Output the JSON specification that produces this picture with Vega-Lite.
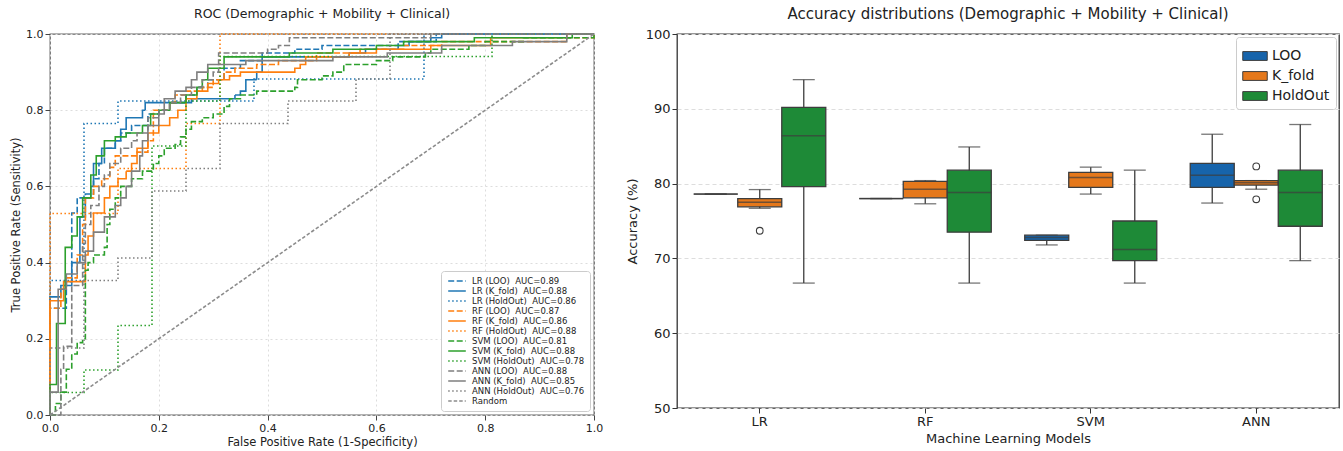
{
  "$schema": "https://vega.github.io/schema/vega-lite/v6.json",
  "padding": {"left": 9, "top": 6, "right": 3, "bottom": 4},
  "config": {"font": "DejaVu Sans", "concat": {"spacing": 21}},
  "resolve": {"legend": {"color": "independent", "fill": "independent", "strokeDash": "independent", "strokeWidth": "independent"}, "scale": {"color": "independent", "fill": "independent", "strokeDash": "independent", "strokeWidth": "independent", "x": "independent", "y": "independent"}},
  "datasets": {
    "roc": [
      {"s":"LR (LOO)\u00a0 AUC=0.89","i":0,"x":0,"y":0},{"s":"LR (LOO)\u00a0 AUC=0.89","i":1,"x":0,"y":0.28},{"s":"LR (LOO)\u00a0 AUC=0.89","i":2,"x":0.03,"y":0.35},{"s":"LR (LOO)\u00a0 AUC=0.89","i":3,"x":0.04,"y":0.53},{"s":"LR (LOO)\u00a0 AUC=0.89","i":4,"x":0.05,"y":0.57},{"s":"LR (LOO)\u00a0 AUC=0.89","i":5,"x":0.065,"y":0.58},{"s":"LR (LOO)\u00a0 AUC=0.89","i":6,"x":0.08,"y":0.62},{"s":"LR (LOO)\u00a0 AUC=0.89","i":7,"x":0.09,"y":0.66},{"s":"LR (LOO)\u00a0 AUC=0.89","i":8,"x":0.1,"y":0.7},{"s":"LR (LOO)\u00a0 AUC=0.89","i":9,"x":0.12,"y":0.72},{"s":"LR (LOO)\u00a0 AUC=0.89","i":10,"x":0.13,"y":0.74},{"s":"LR (LOO)\u00a0 AUC=0.89","i":11,"x":0.15,"y":0.76},{"s":"LR (LOO)\u00a0 AUC=0.89","i":12,"x":0.18,"y":0.79},{"s":"LR (LOO)\u00a0 AUC=0.89","i":13,"x":0.2,"y":0.8},{"s":"LR (LOO)\u00a0 AUC=0.89","i":14,"x":0.22,"y":0.82},{"s":"LR (LOO)\u00a0 AUC=0.89","i":15,"x":0.25,"y":0.84},{"s":"LR (LOO)\u00a0 AUC=0.89","i":16,"x":0.27,"y":0.86},{"s":"LR (LOO)\u00a0 AUC=0.89","i":17,"x":0.29,"y":0.88},{"s":"LR (LOO)\u00a0 AUC=0.89","i":18,"x":0.32,"y":0.91},{"s":"LR (LOO)\u00a0 AUC=0.89","i":19,"x":0.35,"y":0.93},{"s":"LR (LOO)\u00a0 AUC=0.89","i":20,"x":0.39,"y":0.95},{"s":"LR (LOO)\u00a0 AUC=0.89","i":21,"x":0.45,"y":0.96},{"s":"LR (LOO)\u00a0 AUC=0.89","i":22,"x":0.5,"y":0.97},{"s":"LR (LOO)\u00a0 AUC=0.89","i":23,"x":0.64,"y":0.98},{"s":"LR (LOO)\u00a0 AUC=0.89","i":24,"x":0.71,"y":1.0},{"s":"LR (LOO)\u00a0 AUC=0.89","i":25,"x":1,"y":1.0},

      {"s":"LR (K_fold)\u00a0 AUC=0.88","i":0,"x":0,"y":0},{"s":"LR (K_fold)\u00a0 AUC=0.88","i":1,"x":0,"y":0.31},{"s":"LR (K_fold)\u00a0 AUC=0.88","i":2,"x":0.02,"y":0.34},{"s":"LR (K_fold)\u00a0 AUC=0.88","i":3,"x":0.04,"y":0.4},{"s":"LR (K_fold)\u00a0 AUC=0.88","i":4,"x":0.055,"y":0.52},{"s":"LR (K_fold)\u00a0 AUC=0.88","i":5,"x":0.065,"y":0.57},{"s":"LR (K_fold)\u00a0 AUC=0.88","i":6,"x":0.075,"y":0.6},{"s":"LR (K_fold)\u00a0 AUC=0.88","i":7,"x":0.08,"y":0.66},{"s":"LR (K_fold)\u00a0 AUC=0.88","i":8,"x":0.095,"y":0.7},{"s":"LR (K_fold)\u00a0 AUC=0.88","i":9,"x":0.12,"y":0.72},{"s":"LR (K_fold)\u00a0 AUC=0.88","i":10,"x":0.13,"y":0.75},{"s":"LR (K_fold)\u00a0 AUC=0.88","i":11,"x":0.14,"y":0.78},{"s":"LR (K_fold)\u00a0 AUC=0.88","i":12,"x":0.17,"y":0.8},{"s":"LR (K_fold)\u00a0 AUC=0.88","i":13,"x":0.175,"y":0.82},{"s":"LR (K_fold)\u00a0 AUC=0.88","i":14,"x":0.26,"y":0.83},{"s":"LR (K_fold)\u00a0 AUC=0.88","i":15,"x":0.34,"y":0.84},{"s":"LR (K_fold)\u00a0 AUC=0.88","i":16,"x":0.35,"y":0.85},{"s":"LR (K_fold)\u00a0 AUC=0.88","i":17,"x":0.36,"y":0.88},{"s":"LR (K_fold)\u00a0 AUC=0.88","i":18,"x":0.38,"y":0.9},{"s":"LR (K_fold)\u00a0 AUC=0.88","i":19,"x":0.39,"y":0.94},{"s":"LR (K_fold)\u00a0 AUC=0.88","i":20,"x":0.55,"y":0.95},{"s":"LR (K_fold)\u00a0 AUC=0.88","i":21,"x":0.58,"y":0.96},{"s":"LR (K_fold)\u00a0 AUC=0.88","i":22,"x":0.64,"y":0.97},{"s":"LR (K_fold)\u00a0 AUC=0.88","i":23,"x":0.66,"y":0.98},{"s":"LR (K_fold)\u00a0 AUC=0.88","i":24,"x":0.7,"y":0.99},{"s":"LR (K_fold)\u00a0 AUC=0.88","i":25,"x":0.72,"y":1.0},{"s":"LR (K_fold)\u00a0 AUC=0.88","i":26,"x":1,"y":1.0},

      {"s":"LR (HoldOut)\u00a0 AUC=0.86","i":0,"x":0,"y":0},{"s":"LR (HoldOut)\u00a0 AUC=0.86","i":1,"x":0,"y":0.353},{"s":"LR (HoldOut)\u00a0 AUC=0.86","i":2,"x":0.0625,"y":0.765},{"s":"LR (HoldOut)\u00a0 AUC=0.86","i":3,"x":0.125,"y":0.824},{"s":"LR (HoldOut)\u00a0 AUC=0.86","i":4,"x":0.375,"y":0.882},{"s":"LR (HoldOut)\u00a0 AUC=0.86","i":5,"x":0.6875,"y":1.0},{"s":"LR (HoldOut)\u00a0 AUC=0.86","i":6,"x":1,"y":1.0},

      {"s":"RF (LOO)\u00a0 AUC=0.87","i":0,"x":0,"y":0},{"s":"RF (LOO)\u00a0 AUC=0.87","i":1,"x":0,"y":0.28},{"s":"RF (LOO)\u00a0 AUC=0.87","i":2,"x":0.02,"y":0.33},{"s":"RF (LOO)\u00a0 AUC=0.87","i":3,"x":0.03,"y":0.36},{"s":"RF (LOO)\u00a0 AUC=0.87","i":4,"x":0.05,"y":0.42},{"s":"RF (LOO)\u00a0 AUC=0.87","i":5,"x":0.06,"y":0.5},{"s":"RF (LOO)\u00a0 AUC=0.87","i":6,"x":0.065,"y":0.57},{"s":"RF (LOO)\u00a0 AUC=0.87","i":7,"x":0.08,"y":0.6},{"s":"RF (LOO)\u00a0 AUC=0.87","i":8,"x":0.095,"y":0.62},{"s":"RF (LOO)\u00a0 AUC=0.87","i":9,"x":0.11,"y":0.65},{"s":"RF (LOO)\u00a0 AUC=0.87","i":10,"x":0.12,"y":0.68},{"s":"RF (LOO)\u00a0 AUC=0.87","i":11,"x":0.16,"y":0.69},{"s":"RF (LOO)\u00a0 AUC=0.87","i":12,"x":0.18,"y":0.72},{"s":"RF (LOO)\u00a0 AUC=0.87","i":13,"x":0.19,"y":0.8},{"s":"RF (LOO)\u00a0 AUC=0.87","i":14,"x":0.22,"y":0.82},{"s":"RF (LOO)\u00a0 AUC=0.87","i":15,"x":0.23,"y":0.84},{"s":"RF (LOO)\u00a0 AUC=0.87","i":16,"x":0.25,"y":0.85},{"s":"RF (LOO)\u00a0 AUC=0.87","i":17,"x":0.28,"y":0.86},{"s":"RF (LOO)\u00a0 AUC=0.87","i":18,"x":0.3,"y":0.88},{"s":"RF (LOO)\u00a0 AUC=0.87","i":19,"x":0.32,"y":0.9},{"s":"RF (LOO)\u00a0 AUC=0.87","i":20,"x":0.34,"y":0.91},{"s":"RF (LOO)\u00a0 AUC=0.87","i":21,"x":0.38,"y":0.92},{"s":"RF (LOO)\u00a0 AUC=0.87","i":22,"x":0.42,"y":0.93},{"s":"RF (LOO)\u00a0 AUC=0.87","i":23,"x":0.49,"y":0.95},{"s":"RF (LOO)\u00a0 AUC=0.87","i":24,"x":0.57,"y":0.96},{"s":"RF (LOO)\u00a0 AUC=0.87","i":25,"x":0.65,"y":0.97},{"s":"RF (LOO)\u00a0 AUC=0.87","i":26,"x":0.72,"y":0.98},{"s":"RF (LOO)\u00a0 AUC=0.87","i":27,"x":0.95,"y":0.99},{"s":"RF (LOO)\u00a0 AUC=0.87","i":28,"x":1,"y":1.0},

      {"s":"RF (K_fold)\u00a0 AUC=0.86","i":0,"x":0,"y":0},{"s":"RF (K_fold)\u00a0 AUC=0.86","i":1,"x":0,"y":0.3},{"s":"RF (K_fold)\u00a0 AUC=0.86","i":2,"x":0.025,"y":0.35},{"s":"RF (K_fold)\u00a0 AUC=0.86","i":3,"x":0.065,"y":0.42},{"s":"RF (K_fold)\u00a0 AUC=0.86","i":4,"x":0.07,"y":0.47},{"s":"RF (K_fold)\u00a0 AUC=0.86","i":5,"x":0.08,"y":0.53},{"s":"RF (K_fold)\u00a0 AUC=0.86","i":6,"x":0.1,"y":0.57},{"s":"RF (K_fold)\u00a0 AUC=0.86","i":7,"x":0.11,"y":0.6},{"s":"RF (K_fold)\u00a0 AUC=0.86","i":8,"x":0.125,"y":0.62},{"s":"RF (K_fold)\u00a0 AUC=0.86","i":9,"x":0.14,"y":0.64},{"s":"RF (K_fold)\u00a0 AUC=0.86","i":10,"x":0.15,"y":0.66},{"s":"RF (K_fold)\u00a0 AUC=0.86","i":11,"x":0.16,"y":0.7},{"s":"RF (K_fold)\u00a0 AUC=0.86","i":12,"x":0.18,"y":0.74},{"s":"RF (K_fold)\u00a0 AUC=0.86","i":13,"x":0.2,"y":0.76},{"s":"RF (K_fold)\u00a0 AUC=0.86","i":14,"x":0.22,"y":0.78},{"s":"RF (K_fold)\u00a0 AUC=0.86","i":15,"x":0.235,"y":0.8},{"s":"RF (K_fold)\u00a0 AUC=0.86","i":16,"x":0.25,"y":0.83},{"s":"RF (K_fold)\u00a0 AUC=0.86","i":17,"x":0.27,"y":0.85},{"s":"RF (K_fold)\u00a0 AUC=0.86","i":18,"x":0.29,"y":0.87},{"s":"RF (K_fold)\u00a0 AUC=0.86","i":19,"x":0.31,"y":0.88},{"s":"RF (K_fold)\u00a0 AUC=0.86","i":20,"x":0.33,"y":0.89},{"s":"RF (K_fold)\u00a0 AUC=0.86","i":21,"x":0.35,"y":0.9},{"s":"RF (K_fold)\u00a0 AUC=0.86","i":22,"x":0.45,"y":0.91},{"s":"RF (K_fold)\u00a0 AUC=0.86","i":23,"x":0.46,"y":0.92},{"s":"RF (K_fold)\u00a0 AUC=0.86","i":24,"x":0.47,"y":0.94},{"s":"RF (K_fold)\u00a0 AUC=0.86","i":25,"x":0.55,"y":0.95},{"s":"RF (K_fold)\u00a0 AUC=0.86","i":26,"x":0.6,"y":0.96},{"s":"RF (K_fold)\u00a0 AUC=0.86","i":27,"x":0.7,"y":0.97},{"s":"RF (K_fold)\u00a0 AUC=0.86","i":28,"x":0.81,"y":0.99},{"s":"RF (K_fold)\u00a0 AUC=0.86","i":29,"x":0.95,"y":1.0},{"s":"RF (K_fold)\u00a0 AUC=0.86","i":30,"x":1,"y":1.0},

      {"s":"RF (HoldOut)\u00a0 AUC=0.88","i":0,"x":0,"y":0},{"s":"RF (HoldOut)\u00a0 AUC=0.88","i":1,"x":0,"y":0.529},{"s":"RF (HoldOut)\u00a0 AUC=0.88","i":2,"x":0.125,"y":0.647},{"s":"RF (HoldOut)\u00a0 AUC=0.88","i":3,"x":0.25,"y":0.765},{"s":"RF (HoldOut)\u00a0 AUC=0.88","i":4,"x":0.3125,"y":1.0},{"s":"RF (HoldOut)\u00a0 AUC=0.88","i":5,"x":1,"y":1.0},

      {"s":"SVM (LOO)\u00a0 AUC=0.81","i":0,"x":0,"y":0},{"s":"SVM (LOO)\u00a0 AUC=0.81","i":1,"x":0.01,"y":0.03},{"s":"SVM (LOO)\u00a0 AUC=0.81","i":2,"x":0.02,"y":0.06},{"s":"SVM (LOO)\u00a0 AUC=0.81","i":3,"x":0.03,"y":0.12},{"s":"SVM (LOO)\u00a0 AUC=0.81","i":4,"x":0.04,"y":0.16},{"s":"SVM (LOO)\u00a0 AUC=0.81","i":5,"x":0.05,"y":0.19},{"s":"SVM (LOO)\u00a0 AUC=0.81","i":6,"x":0.06,"y":0.2},{"s":"SVM (LOO)\u00a0 AUC=0.81","i":7,"x":0.065,"y":0.38},{"s":"SVM (LOO)\u00a0 AUC=0.81","i":8,"x":0.07,"y":0.4},{"s":"SVM (LOO)\u00a0 AUC=0.81","i":9,"x":0.08,"y":0.42},{"s":"SVM (LOO)\u00a0 AUC=0.81","i":10,"x":0.1,"y":0.44},{"s":"SVM (LOO)\u00a0 AUC=0.81","i":11,"x":0.105,"y":0.5},{"s":"SVM (LOO)\u00a0 AUC=0.81","i":12,"x":0.11,"y":0.54},{"s":"SVM (LOO)\u00a0 AUC=0.81","i":13,"x":0.12,"y":0.57},{"s":"SVM (LOO)\u00a0 AUC=0.81","i":14,"x":0.13,"y":0.6},{"s":"SVM (LOO)\u00a0 AUC=0.81","i":15,"x":0.15,"y":0.62},{"s":"SVM (LOO)\u00a0 AUC=0.81","i":16,"x":0.17,"y":0.64},{"s":"SVM (LOO)\u00a0 AUC=0.81","i":17,"x":0.19,"y":0.66},{"s":"SVM (LOO)\u00a0 AUC=0.81","i":18,"x":0.2,"y":0.68},{"s":"SVM (LOO)\u00a0 AUC=0.81","i":19,"x":0.21,"y":0.7},{"s":"SVM (LOO)\u00a0 AUC=0.81","i":20,"x":0.23,"y":0.71},{"s":"SVM (LOO)\u00a0 AUC=0.81","i":21,"x":0.24,"y":0.73},{"s":"SVM (LOO)\u00a0 AUC=0.81","i":22,"x":0.25,"y":0.75},{"s":"SVM (LOO)\u00a0 AUC=0.81","i":23,"x":0.26,"y":0.77},{"s":"SVM (LOO)\u00a0 AUC=0.81","i":24,"x":0.28,"y":0.78},{"s":"SVM (LOO)\u00a0 AUC=0.81","i":25,"x":0.3,"y":0.79},{"s":"SVM (LOO)\u00a0 AUC=0.81","i":26,"x":0.32,"y":0.81},{"s":"SVM (LOO)\u00a0 AUC=0.81","i":27,"x":0.33,"y":0.83},{"s":"SVM (LOO)\u00a0 AUC=0.81","i":28,"x":0.35,"y":0.84},{"s":"SVM (LOO)\u00a0 AUC=0.81","i":29,"x":0.38,"y":0.85},{"s":"SVM (LOO)\u00a0 AUC=0.81","i":30,"x":0.45,"y":0.86},{"s":"SVM (LOO)\u00a0 AUC=0.81","i":31,"x":0.455,"y":0.88},{"s":"SVM (LOO)\u00a0 AUC=0.81","i":32,"x":0.5,"y":0.89},{"s":"SVM (LOO)\u00a0 AUC=0.81","i":33,"x":0.52,"y":0.9},{"s":"SVM (LOO)\u00a0 AUC=0.81","i":34,"x":0.54,"y":0.92},{"s":"SVM (LOO)\u00a0 AUC=0.81","i":35,"x":0.6,"y":0.93},{"s":"SVM (LOO)\u00a0 AUC=0.81","i":36,"x":0.63,"y":0.94},{"s":"SVM (LOO)\u00a0 AUC=0.81","i":37,"x":0.69,"y":0.95},{"s":"SVM (LOO)\u00a0 AUC=0.81","i":38,"x":0.7,"y":0.96},{"s":"SVM (LOO)\u00a0 AUC=0.81","i":39,"x":0.77,"y":0.97},{"s":"SVM (LOO)\u00a0 AUC=0.81","i":40,"x":0.8,"y":0.98},{"s":"SVM (LOO)\u00a0 AUC=0.81","i":41,"x":0.87,"y":0.99},{"s":"SVM (LOO)\u00a0 AUC=0.81","i":42,"x":1,"y":1.0},

      {"s":"SVM (K_fold)\u00a0 AUC=0.88","i":0,"x":0,"y":0},{"s":"SVM (K_fold)\u00a0 AUC=0.88","i":1,"x":0,"y":0.08},{"s":"SVM (K_fold)\u00a0 AUC=0.88","i":2,"x":0.012,"y":0.24},{"s":"SVM (K_fold)\u00a0 AUC=0.88","i":3,"x":0.028,"y":0.44},{"s":"SVM (K_fold)\u00a0 AUC=0.88","i":4,"x":0.04,"y":0.47},{"s":"SVM (K_fold)\u00a0 AUC=0.88","i":5,"x":0.05,"y":0.52},{"s":"SVM (K_fold)\u00a0 AUC=0.88","i":6,"x":0.06,"y":0.57},{"s":"SVM (K_fold)\u00a0 AUC=0.88","i":7,"x":0.075,"y":0.63},{"s":"SVM (K_fold)\u00a0 AUC=0.88","i":8,"x":0.085,"y":0.68},{"s":"SVM (K_fold)\u00a0 AUC=0.88","i":9,"x":0.1,"y":0.72},{"s":"SVM (K_fold)\u00a0 AUC=0.88","i":10,"x":0.12,"y":0.73},{"s":"SVM (K_fold)\u00a0 AUC=0.88","i":11,"x":0.14,"y":0.74},{"s":"SVM (K_fold)\u00a0 AUC=0.88","i":12,"x":0.17,"y":0.76},{"s":"SVM (K_fold)\u00a0 AUC=0.88","i":13,"x":0.185,"y":0.79},{"s":"SVM (K_fold)\u00a0 AUC=0.88","i":14,"x":0.2,"y":0.8},{"s":"SVM (K_fold)\u00a0 AUC=0.88","i":15,"x":0.22,"y":0.82},{"s":"SVM (K_fold)\u00a0 AUC=0.88","i":16,"x":0.25,"y":0.84},{"s":"SVM (K_fold)\u00a0 AUC=0.88","i":17,"x":0.27,"y":0.86},{"s":"SVM (K_fold)\u00a0 AUC=0.88","i":18,"x":0.28,"y":0.88},{"s":"SVM (K_fold)\u00a0 AUC=0.88","i":19,"x":0.29,"y":0.91},{"s":"SVM (K_fold)\u00a0 AUC=0.88","i":20,"x":0.32,"y":0.94},{"s":"SVM (K_fold)\u00a0 AUC=0.88","i":21,"x":0.44,"y":0.95},{"s":"SVM (K_fold)\u00a0 AUC=0.88","i":22,"x":0.52,"y":0.96},{"s":"SVM (K_fold)\u00a0 AUC=0.88","i":23,"x":0.6,"y":0.97},{"s":"SVM (K_fold)\u00a0 AUC=0.88","i":24,"x":0.65,"y":0.98},{"s":"SVM (K_fold)\u00a0 AUC=0.88","i":25,"x":0.78,"y":0.99},{"s":"SVM (K_fold)\u00a0 AUC=0.88","i":26,"x":0.96,"y":1.0},{"s":"SVM (K_fold)\u00a0 AUC=0.88","i":27,"x":1,"y":1.0},

      {"s":"SVM (HoldOut)\u00a0 AUC=0.78","i":0,"x":0,"y":0},{"s":"SVM (HoldOut)\u00a0 AUC=0.78","i":1,"x":0,"y":0.059},{"s":"SVM (HoldOut)\u00a0 AUC=0.78","i":2,"x":0.0625,"y":0.118},{"s":"SVM (HoldOut)\u00a0 AUC=0.78","i":3,"x":0.125,"y":0.235},{"s":"SVM (HoldOut)\u00a0 AUC=0.78","i":4,"x":0.1875,"y":0.706},{"s":"SVM (HoldOut)\u00a0 AUC=0.78","i":5,"x":0.25,"y":0.824},{"s":"SVM (HoldOut)\u00a0 AUC=0.78","i":6,"x":0.3125,"y":0.941},{"s":"SVM (HoldOut)\u00a0 AUC=0.78","i":7,"x":0.8125,"y":1.0},{"s":"SVM (HoldOut)\u00a0 AUC=0.78","i":8,"x":1,"y":1.0},

      {"s":"ANN (LOO)\u00a0 AUC=0.88","i":0,"x":0,"y":0},{"s":"ANN (LOO)\u00a0 AUC=0.88","i":1,"x":0.02,"y":0.12},{"s":"ANN (LOO)\u00a0 AUC=0.88","i":2,"x":0.025,"y":0.18},{"s":"ANN (LOO)\u00a0 AUC=0.88","i":3,"x":0.04,"y":0.34},{"s":"ANN (LOO)\u00a0 AUC=0.88","i":4,"x":0.06,"y":0.45},{"s":"ANN (LOO)\u00a0 AUC=0.88","i":5,"x":0.065,"y":0.5},{"s":"ANN (LOO)\u00a0 AUC=0.88","i":6,"x":0.075,"y":0.55},{"s":"ANN (LOO)\u00a0 AUC=0.88","i":7,"x":0.09,"y":0.6},{"s":"ANN (LOO)\u00a0 AUC=0.88","i":8,"x":0.1,"y":0.63},{"s":"ANN (LOO)\u00a0 AUC=0.88","i":9,"x":0.11,"y":0.66},{"s":"ANN (LOO)\u00a0 AUC=0.88","i":10,"x":0.13,"y":0.7},{"s":"ANN (LOO)\u00a0 AUC=0.88","i":11,"x":0.15,"y":0.72},{"s":"ANN (LOO)\u00a0 AUC=0.88","i":12,"x":0.16,"y":0.74},{"s":"ANN (LOO)\u00a0 AUC=0.88","i":13,"x":0.18,"y":0.78},{"s":"ANN (LOO)\u00a0 AUC=0.88","i":14,"x":0.2,"y":0.8},{"s":"ANN (LOO)\u00a0 AUC=0.88","i":15,"x":0.22,"y":0.82},{"s":"ANN (LOO)\u00a0 AUC=0.88","i":16,"x":0.24,"y":0.84},{"s":"ANN (LOO)\u00a0 AUC=0.88","i":17,"x":0.26,"y":0.86},{"s":"ANN (LOO)\u00a0 AUC=0.88","i":18,"x":0.28,"y":0.88},{"s":"ANN (LOO)\u00a0 AUC=0.88","i":19,"x":0.3,"y":0.9},{"s":"ANN (LOO)\u00a0 AUC=0.88","i":20,"x":0.31,"y":0.95},{"s":"ANN (LOO)\u00a0 AUC=0.88","i":21,"x":0.4,"y":0.96},{"s":"ANN (LOO)\u00a0 AUC=0.88","i":22,"x":0.42,"y":0.97},{"s":"ANN (LOO)\u00a0 AUC=0.88","i":23,"x":0.44,"y":0.99},{"s":"ANN (LOO)\u00a0 AUC=0.88","i":24,"x":0.7,"y":1.0},{"s":"ANN (LOO)\u00a0 AUC=0.88","i":25,"x":1,"y":1.0},

      {"s":"ANN (K_fold)\u00a0 AUC=0.85","i":0,"x":0,"y":0},{"s":"ANN (K_fold)\u00a0 AUC=0.85","i":1,"x":0,"y":0.06},{"s":"ANN (K_fold)\u00a0 AUC=0.85","i":2,"x":0.015,"y":0.33},{"s":"ANN (K_fold)\u00a0 AUC=0.85","i":3,"x":0.03,"y":0.37},{"s":"ANN (K_fold)\u00a0 AUC=0.85","i":4,"x":0.05,"y":0.4},{"s":"ANN (K_fold)\u00a0 AUC=0.85","i":5,"x":0.065,"y":0.43},{"s":"ANN (K_fold)\u00a0 AUC=0.85","i":6,"x":0.08,"y":0.48},{"s":"ANN (K_fold)\u00a0 AUC=0.85","i":7,"x":0.1,"y":0.52},{"s":"ANN (K_fold)\u00a0 AUC=0.85","i":8,"x":0.12,"y":0.55},{"s":"ANN (K_fold)\u00a0 AUC=0.85","i":9,"x":0.13,"y":0.57},{"s":"ANN (K_fold)\u00a0 AUC=0.85","i":10,"x":0.14,"y":0.6},{"s":"ANN (K_fold)\u00a0 AUC=0.85","i":11,"x":0.15,"y":0.64},{"s":"ANN (K_fold)\u00a0 AUC=0.85","i":12,"x":0.165,"y":0.68},{"s":"ANN (K_fold)\u00a0 AUC=0.85","i":13,"x":0.17,"y":0.72},{"s":"ANN (K_fold)\u00a0 AUC=0.85","i":14,"x":0.18,"y":0.76},{"s":"ANN (K_fold)\u00a0 AUC=0.85","i":15,"x":0.2,"y":0.79},{"s":"ANN (K_fold)\u00a0 AUC=0.85","i":16,"x":0.21,"y":0.83},{"s":"ANN (K_fold)\u00a0 AUC=0.85","i":17,"x":0.23,"y":0.85},{"s":"ANN (K_fold)\u00a0 AUC=0.85","i":18,"x":0.25,"y":0.86},{"s":"ANN (K_fold)\u00a0 AUC=0.85","i":19,"x":0.26,"y":0.88},{"s":"ANN (K_fold)\u00a0 AUC=0.85","i":20,"x":0.27,"y":0.9},{"s":"ANN (K_fold)\u00a0 AUC=0.85","i":21,"x":0.29,"y":0.92},{"s":"ANN (K_fold)\u00a0 AUC=0.85","i":22,"x":0.36,"y":0.93},{"s":"ANN (K_fold)\u00a0 AUC=0.85","i":23,"x":0.52,"y":0.94},{"s":"ANN (K_fold)\u00a0 AUC=0.85","i":24,"x":0.62,"y":0.95},{"s":"ANN (K_fold)\u00a0 AUC=0.85","i":25,"x":0.72,"y":0.97},{"s":"ANN (K_fold)\u00a0 AUC=0.85","i":26,"x":0.85,"y":0.98},{"s":"ANN (K_fold)\u00a0 AUC=0.85","i":27,"x":0.95,"y":1.0},{"s":"ANN (K_fold)\u00a0 AUC=0.85","i":28,"x":1,"y":1.0},

      {"s":"ANN (HoldOut)\u00a0 AUC=0.76","i":0,"x":0,"y":0},{"s":"ANN (HoldOut)\u00a0 AUC=0.76","i":1,"x":0,"y":0.176},{"s":"ANN (HoldOut)\u00a0 AUC=0.76","i":2,"x":0.0625,"y":0.353},{"s":"ANN (HoldOut)\u00a0 AUC=0.76","i":3,"x":0.125,"y":0.412},{"s":"ANN (HoldOut)\u00a0 AUC=0.76","i":4,"x":0.1875,"y":0.588},{"s":"ANN (HoldOut)\u00a0 AUC=0.76","i":5,"x":0.25,"y":0.647},{"s":"ANN (HoldOut)\u00a0 AUC=0.76","i":6,"x":0.3125,"y":0.765},{"s":"ANN (HoldOut)\u00a0 AUC=0.76","i":7,"x":0.4375,"y":0.824},{"s":"ANN (HoldOut)\u00a0 AUC=0.76","i":8,"x":0.5625,"y":0.882},{"s":"ANN (HoldOut)\u00a0 AUC=0.76","i":9,"x":0.625,"y":1.0},{"s":"ANN (HoldOut)\u00a0 AUC=0.76","i":10,"x":1,"y":1.0}
    ],
    "random": [
      {"s":"Random","i":0,"x":0,"y":0},{"s":"Random","i":1,"x":1,"y":1}
    ],
    "box": [
      {"model":"LR","method":"LOO","lo":78.6,"q1":78.6,"med":78.6,"q3":78.6,"hi":78.6},
      {"model":"LR","method":"K_fold","lo":76.7,"q1":76.9,"med":77.5,"q3":78.0,"hi":79.2},
      {"model":"LR","method":"HoldOut","lo":66.7,"q1":79.6,"med":86.4,"q3":90.2,"hi":93.9},
      {"model":"RF","method":"LOO","lo":78.0,"q1":78.0,"med":78.0,"q3":78.0,"hi":78.0},
      {"model":"RF","method":"K_fold","lo":77.3,"q1":78.1,"med":79.25,"q3":80.3,"hi":80.4},
      {"model":"RF","method":"HoldOut","lo":66.7,"q1":73.5,"med":78.8,"q3":81.8,"hi":84.9},
      {"model":"SVM","method":"LOO","lo":71.8,"q1":72.4,"med":72.8,"q3":73.1,"hi":73.1},
      {"model":"SVM","method":"K_fold","lo":78.6,"q1":79.5,"med":80.8,"q3":81.5,"hi":82.2},
      {"model":"SVM","method":"HoldOut","lo":66.7,"q1":69.7,"med":71.2,"q3":75.0,"hi":81.8},
      {"model":"ANN","method":"LOO","lo":77.4,"q1":79.5,"med":81.1,"q3":82.7,"hi":86.6},
      {"model":"ANN","method":"K_fold","lo":79.25,"q1":79.8,"med":80.1,"q3":80.4,"hi":80.4},
      {"model":"ANN","method":"HoldOut","lo":69.7,"q1":74.3,"med":78.8,"q3":81.8,"hi":87.9}
    ],
    "outliers": [
      {"model":"LR","method":"K_fold","v":73.7},
      {"model":"ANN","method":"K_fold","v":82.3},
      {"model":"ANN","method":"K_fold","v":77.9}
    ]
  },
  "hconcat": [
    {
      "width": 544,
      "height": 381,
      "title": {"text": "ROC (Demographic + Mobility + Clinical)", "fontSize": 12.5, "fontWeight": "normal", "color": "#222", "offset": 8},
      "view": {"stroke": "#666", "strokeWidth": 1.3},
      "layer": [
        {
          "data": {"name": "roc"},
          "mark": {"type": "line", "interpolate": "step-after"},
          "encoding": {
            "x": {"field": "x", "type": "quantitative", "scale": {"domain": [0, 1], "nice": false},
                  "axis": {"title": "False Positive Rate (1-Specificity)", "values": [0, 0.2, 0.4, 0.6, 0.8, 1.0], "format": ".1f", "grid": true, "gridDash": [2, 3], "gridColor": "#dddddd", "domain": false, "tickColor": "#444", "labelFontSize": 11, "titleFontSize": 11.5, "titleFontWeight": "normal", "labelColor": "#222", "titleColor": "#222", "labelFlush": false, "titlePadding": 3}},
            "y": {"field": "y", "type": "quantitative", "scale": {"domain": [0, 1], "nice": false},
                  "axis": {"title": "True Positive Rate (Sensitivity)", "values": [0, 0.2, 0.4, 0.6, 0.8, 1.0], "format": ".1f", "grid": true, "gridDash": [2, 3], "gridColor": "#dddddd", "domain": false, "tickColor": "#444", "labelFontSize": 11, "titleFontSize": 11.5, "titleFontWeight": "normal", "labelColor": "#222", "titleColor": "#222", "labelFlush": false, "titlePadding": 4}},
            "order": {"field": "i", "type": "quantitative"},
            "color": {"field": "s", "type": "nominal",
              "scale": {"domain": ["LR (LOO)\u00a0 AUC=0.89", "LR (K_fold)\u00a0 AUC=0.88", "LR (HoldOut)\u00a0 AUC=0.86", "RF (LOO)\u00a0 AUC=0.87", "RF (K_fold)\u00a0 AUC=0.86", "RF (HoldOut)\u00a0 AUC=0.88", "SVM (LOO)\u00a0 AUC=0.81", "SVM (K_fold)\u00a0 AUC=0.88", "SVM (HoldOut)\u00a0 AUC=0.78", "ANN (LOO)\u00a0 AUC=0.88", "ANN (K_fold)\u00a0 AUC=0.85", "ANN (HoldOut)\u00a0 AUC=0.76", "Random"],
                        "range": ["#1f77b4", "#1f77b4", "#1f77b4", "#ff7f0e", "#ff7f0e", "#ff7f0e", "#2ca02c", "#2ca02c", "#2ca02c", "#7f7f7f", "#7f7f7f", "#7f7f7f", "#8c8c8c"]},
              "legend": {"title": null, "orient": "bottom-right", "offset": 4, "symbolType": "M-2.2,0H2.2", "symbolSize": 64, "symbolOffset": 6, "labelOffset": 10, "labelFontSize": 8.5, "labelColor": "#222", "rowPadding": 0, "padding": 5, "strokeColor": "#cccccc", "fillColor": "#ffffff", "cornerRadius": 3, "labelLimit": 200}},
            "strokeDash": {"field": "s", "type": "nominal",
              "scale": {"domain": ["LR (LOO)\u00a0 AUC=0.89", "LR (K_fold)\u00a0 AUC=0.88", "LR (HoldOut)\u00a0 AUC=0.86", "RF (LOO)\u00a0 AUC=0.87", "RF (K_fold)\u00a0 AUC=0.86", "RF (HoldOut)\u00a0 AUC=0.88", "SVM (LOO)\u00a0 AUC=0.81", "SVM (K_fold)\u00a0 AUC=0.88", "SVM (HoldOut)\u00a0 AUC=0.78", "ANN (LOO)\u00a0 AUC=0.88", "ANN (K_fold)\u00a0 AUC=0.85", "ANN (HoldOut)\u00a0 AUC=0.76", "Random"],
                        "range": [[6, 2.5], [1, 0], [1.5, 2.5], [6, 2.5], [1, 0], [1.5, 2.5], [6, 2.5], [1, 0], [1.5, 2.5], [6, 2.5], [1, 0], [1.5, 2.5], [3.5, 2]]}},
            "strokeWidth": {"field": "s", "type": "nominal",
              "scale": {"domain": ["LR (LOO)\u00a0 AUC=0.89", "LR (K_fold)\u00a0 AUC=0.88", "LR (HoldOut)\u00a0 AUC=0.86", "RF (LOO)\u00a0 AUC=0.87", "RF (K_fold)\u00a0 AUC=0.86", "RF (HoldOut)\u00a0 AUC=0.88", "SVM (LOO)\u00a0 AUC=0.81", "SVM (K_fold)\u00a0 AUC=0.88", "SVM (HoldOut)\u00a0 AUC=0.78", "ANN (LOO)\u00a0 AUC=0.88", "ANN (K_fold)\u00a0 AUC=0.85", "ANN (HoldOut)\u00a0 AUC=0.76", "Random"],
                        "range": [1.6, 1.6, 1.6, 1.6, 1.6, 1.6, 1.6, 1.6, 1.6, 1.6, 1.6, 1.6, 1]}}
          }
        },
        {
          "data": {"name": "random"},
          "mark": {"type": "line", "interpolate": "linear"},
          "encoding": {
            "x": {"field": "x", "type": "quantitative"},
            "y": {"field": "y", "type": "quantitative"},
            "order": {"field": "i", "type": "quantitative"},
            "color": {"field": "s", "type": "nominal"},
            "strokeDash": {"field": "s", "type": "nominal"},
            "strokeWidth": {"field": "s", "type": "nominal"}
          }
        }
      ]
    },
    {
      "width": 662,
      "height": 374,
      "title": {"text": "Accuracy distributions (Demographic + Mobility + Clinical)", "fontSize": 15, "fontWeight": "normal", "color": "#222", "offset": 6},
      "view": {"stroke": "#333", "strokeWidth": 1.3},
      "encoding": {
        "x": {"field": "model", "type": "nominal", "sort": ["LR", "RF", "SVM", "ANN"],
              "scale": {"domain": ["LR", "RF", "SVM", "ANN"], "paddingInner": 0, "paddingOuter": 0},
              "axis": {"title": "Machine Learning Models", "labelAngle": 0, "domain": false, "tickColor": "#333", "labelFontSize": 13, "titleFontSize": 13, "titleFontWeight": "normal", "labelColor": "#222", "titleColor": "#222", "titlePadding": 4}},
        "xOffset": {"field": "method", "type": "nominal", "sort": ["LOO", "K_fold", "HoldOut"],
              "scale": {"domain": ["LOO", "K_fold", "HoldOut"], "paddingInner": 0, "paddingOuter": 0.38}}
      },
      "layer": [
        {
          "data": {"name": "box"},
          "mark": {"type": "rule", "color": "#3d3d3d", "strokeWidth": 1.3},
          "encoding": {
            "y": {"field": "lo", "type": "quantitative", "scale": {"domain": [50, 100], "nice": false},
                  "axis": {"title": "Accuracy (%)", "values": [50, 60, 70, 80, 90, 100], "grid": true, "gridDash": [4, 3], "gridColor": "#dddddd", "domain": false, "tickColor": "#333", "labelFontSize": 13, "titleFontSize": 13, "titleFontWeight": "normal", "labelColor": "#222", "titleColor": "#222", "titlePadding": 6}},
            "y2": {"field": "hi"}
          }
        },
        {
          "data": {"name": "box"},
          "mark": {"type": "tick", "color": "#3d3d3d", "size": 22, "thickness": 1.3, "orient": "horizontal"},
          "encoding": {"y": {"field": "lo", "type": "quantitative"}}
        },
        {
          "data": {"name": "box"},
          "mark": {"type": "tick", "color": "#3d3d3d", "size": 22, "thickness": 1.3, "orient": "horizontal"},
          "encoding": {"y": {"field": "hi", "type": "quantitative"}}
        },
        {
          "data": {"name": "box"},
          "mark": {"type": "bar", "stroke": "#3d3d3d", "strokeWidth": 1.3},
          "encoding": {
            "y": {"field": "q1", "type": "quantitative"},
            "y2": {"field": "q3"},
            "fill": {"field": "method", "type": "nominal",
              "scale": {"domain": ["LOO", "K_fold", "HoldOut"], "range": ["#1764ab", "#e5781b", "#1e8a37"]},
              "legend": {"title": null, "orient": "top-right", "offset": 3, "symbolType": "M-1,-0.36H1V0.36H-1Z", "symbolSize": 600, "symbolStrokeColor": "#3d3d3d", "symbolStrokeWidth": 1, "labelFontSize": 14, "labelColor": "#222", "padding": 6, "rowPadding": 0, "strokeColor": "#cccccc", "fillColor": "#ffffff", "cornerRadius": 3}}
          }
        },
        {
          "data": {"name": "box"},
          "mark": {"type": "tick", "color": "#3d3d3d", "size": 44, "thickness": 1.5, "orient": "horizontal"},
          "encoding": {"y": {"field": "med", "type": "quantitative"}}
        },
        {
          "data": {"name": "outliers"},
          "mark": {"type": "point", "filled": false, "stroke": "#3d3d3d", "strokeWidth": 1.1, "size": 45, "opacity": 1},
          "encoding": {"y": {"field": "v", "type": "quantitative"}}
        }
      ]
    }
  ]
}
